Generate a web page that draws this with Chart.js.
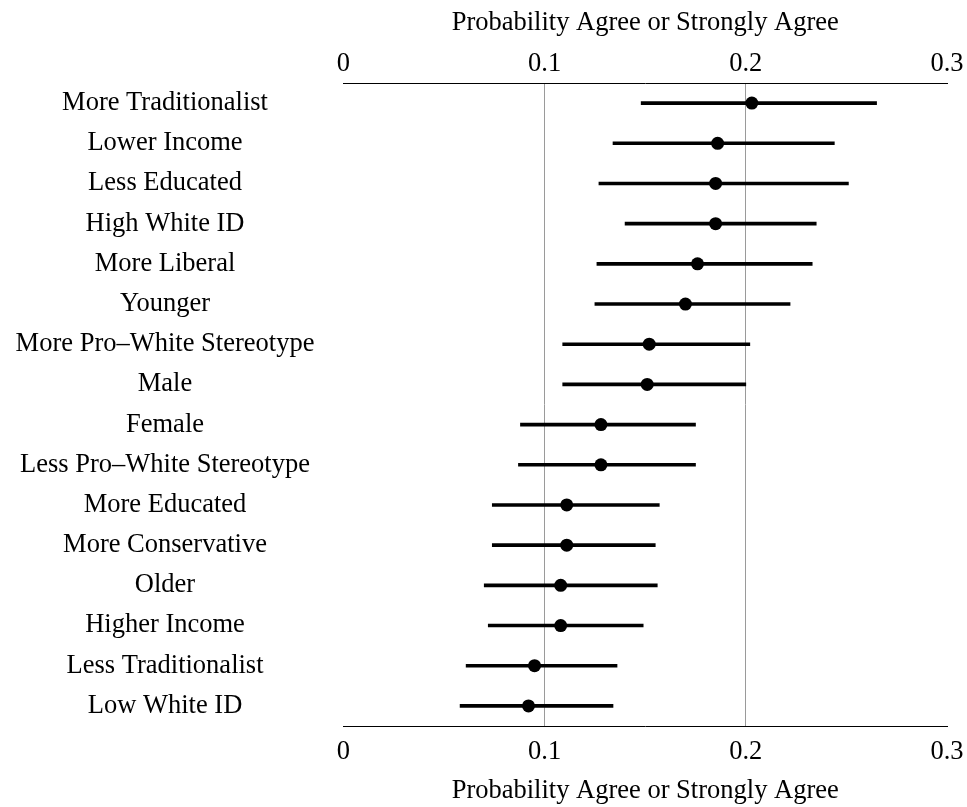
<!DOCTYPE html>
<html>
<head>
<meta charset="utf-8">
<script src="https://cdn.jsdelivr.net/npm/chart.js@4/dist/chart.umd.min.js"></script>
<style>
  html, body { margin: 0; padding: 0; background: #fff; }
</style>
</head>
<body>
<canvas id="chart" width="967" height="807"></canvas>
<script>
// rows, top to bottom
const groups = [
    "More Traditionalist", "Lower Income", "Less Educated", "High White ID",
    "More Liberal", "Younger", "More Pro\u2013White Stereotype", "Male",
    "Female", "Less Pro\u2013White Stereotype", "More Educated", "More Conservative",
    "Older", "Higher Income", "Less Traditionalist", "Low White ID"
];
const estimates = [0.203, 0.186, 0.185, 0.185, 0.176, 0.170, 0.152, 0.151,
    0.128, 0.128, 0.111, 0.111, 0.108, 0.108, 0.095, 0.092];
const lower = [0.148, 0.134, 0.127, 0.140, 0.126, 0.125, 0.109, 0.109,
    0.088, 0.087, 0.074, 0.074, 0.070, 0.072, 0.061, 0.058];
const upper = [0.265, 0.244, 0.251, 0.235, 0.233, 0.222, 0.202, 0.200,
    0.175, 0.175, 0.157, 0.155, 0.156, 0.149, 0.136, 0.134];
const xTicks = [0, 0.1, 0.2, 0.3];
const gridAt = [0.1, 0.2];
const axisTitle = "Probability Agree or Strongly Agree";

const FONT = "'Liberation Serif', 'Times New Roman', Times, serif";
const SIZE = 26.5;

Chart.defaults.font.family = FONT;
Chart.defaults.color = "#000";

const setTicks = scale => { scale.ticks = xTicks.map(v => ({ value: v })); };
// fixed band heights, no extra side padding from the tick labels
const fitX = h => s => { s.height = h; s.paddingLeft = 0; s.paddingRight = 0; };

new Chart(document.getElementById("chart"), {
    type: "bar",
    data: {
        labels: groups,
        datasets: [
            {
                type: "line",
                indexAxis: "y",
                data: estimates,
                showLine: false,
                pointRadius: 6.5,
                pointBackgroundColor: "#000",
                pointBorderWidth: 0,
                order: 0
            },
            {
                type: "bar",
                indexAxis: "y",
                data: lower.map((l, i) => [l, upper[i]]),
                backgroundColor: "#000",
                barThickness: 3,
                order: 1
            }
        ]
    },
    options: {
        indexAxis: "y",
        responsive: false,
        animation: false,
        layout: { padding: { top: 0, right: 20, bottom: 0, left: 0 } },
        plugins: { legend: { display: false }, tooltip: { enabled: false } },
        scales: {
            x: {
                type: "linear",
                position: "bottom",
                min: 0,
                max: 0.3,
                afterBuildTicks: setTicks,
                afterFit: fitX(81),
                grid: {
                    drawTicks: false,
                    color: c => gridAt.includes(c.tick && c.tick.value) ? "#9a9a9a" : "rgba(0,0,0,0)",
                    lineWidth: 1
                },
                border: { display: true, color: "#000", width: 1 },
                ticks: {
                    padding: 10,
                    maxRotation: 0,
                    font: { size: SIZE },
                    callback: v => String(+v.toFixed(1))
                },
                title: {
                    display: true,
                    text: axisTitle,
                    font: { size: SIZE },
                    padding: { top: 0, bottom: 0 }
                }
            },
            x2: {
                type: "linear",
                axis: "x",
                position: "top",
                min: 0,
                max: 0.3,
                afterBuildTicks: setTicks,
                afterFit: fitX(83),
                grid: { display: false, drawTicks: false },
                border: { display: true, color: "#000", width: 1 },
                ticks: {
                    padding: 3,
                    maxRotation: 0,
                    font: { size: SIZE },
                    callback: v => String(+v.toFixed(1))
                },
                title: {
                    display: true,
                    text: axisTitle,
                    font: { size: SIZE },
                    padding: { top: 7, bottom: 0 }
                }
            },
            y: {
                afterFit: s => { s.width = 343.4; },
                grid: { display: false, drawTicks: false },
                border: { display: false },
                ticks: {
                    crossAlign: "center",
                    padding: 29,
                    font: { size: SIZE }
                }
            }
        }
    }
});
</script>
</body>
</html>
